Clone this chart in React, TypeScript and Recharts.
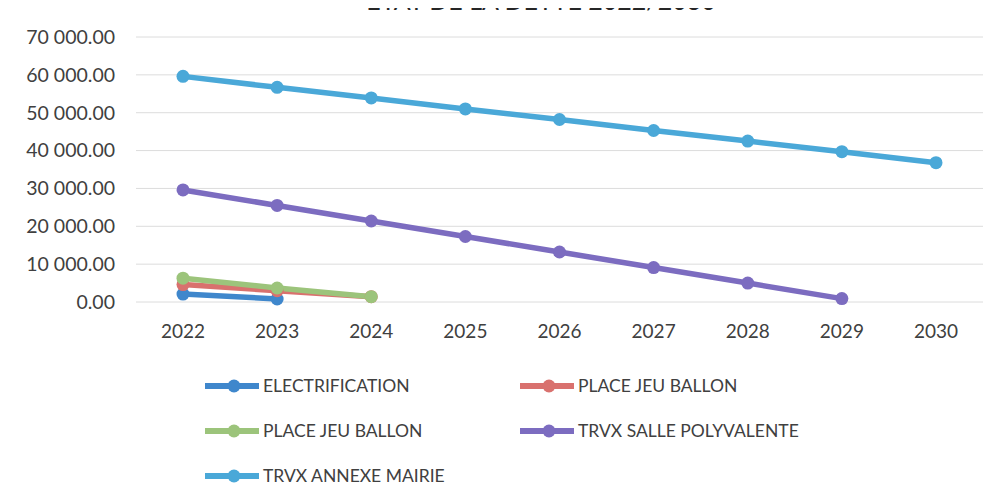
import { LineChart, Line, XAxis, YAxis, CartesianGrid } from "recharts";

const years = ["2022", "2023", "2024", "2025", "2026", "2027", "2028", "2029", "2030"];

const electrification = [2100, 800];
const placeJeuBallonRouge = [4600, 3000, 1400];
const placeJeuBallonVert = [6300, 3700, 1400];
const sallePolyvalente = [29600, 25500, 21400, 17300, 13200, 9100, 5000, 900];
const annexeMairie = [59600, 56700, 53900, 51000, 48200, 45300, 42500, 39700, 36800];

const yTicks = [0, 10000, 20000, 30000, 40000, 50000, 60000, 70000];

const seriesNames = [
  "ELECTRIFICATION",
  "PLACE JEU BALLON",
  "PLACE JEU BALLON",
  "TRVX SALLE POLYVALENTE",
  "TRVX ANNEXE MAIRIE",
];
const seriesValues = [
  electrification,
  placeJeuBallonRouge,
  placeJeuBallonVert,
  sallePolyvalente,
  annexeMairie,
];
const seriesColors = ["#3f87cc", "#d9716e", "#9cc47b", "#7c6cc0", "#4aa8d8"];

const data = years.map((year, i) => {
  const row: Record<string, string | number | null> = { year };
  seriesValues.forEach((values, s) => {
    row[`s${s}`] = values[i] ?? null;
  });
  return row;
});

const formatAmount = (v: number) => {
  const [int, dec] = v.toFixed(2).split(".");
  return `${int.replace(/\B(?=(\d{3})+(?!\d))/g, " ")}.${dec}`;
};

const font = "Lato, 'Open Sans', sans-serif";

// legend slots: [left, top] inside the wrapper
const legendSlots = [
  [197, 367],
  [512, 367],
  [197, 412],
  [512, 412],
  [197, 457],
];

function LegendIcon({ color }: { color: string }) {
  return (
    <svg width={54} height={16} style={{ display: "block" }}>
      <line x1={0} y1={8} x2={54} y2={8} stroke={color} strokeWidth={6} />
      <circle cx={29} cy={8} r={6.5} fill={color} />
    </svg>
  );
}

export default function App() {
  return (
    <div style={{ position: "relative", width: 980, height: 489, fontFamily: font }}>
      {/* title sits mostly above the page edge, like in the scan */}
      <div
        style={{
          position: "absolute",
          top: -21,
          left: 0,
          width: 1066,
          textAlign: "center",
          fontSize: 25,
          lineHeight: "26px",
          color: "#262626",
          whiteSpace: "nowrap",
        }}
      >
        ETAT DE LA DETTE 2022/2030
      </div>

      <LineChart
        width={980}
        height={340}
        data={data}
        margin={{ top: 29, right: 5, left: 10, bottom: 6 }}
      >
        <CartesianGrid vertical={false} stroke="#dcdcdc" />
        <XAxis
          dataKey="year"
          height={40}
          axisLine={false}
          tickLine={false}
          tickSize={0}
          tickMargin={23}
          padding={{ left: 47, right: 47 }}
          tick={{ fill: "#404040", fontSize: 19, fontFamily: font }}
        />
        <YAxis
          width={118}
          domain={[0, 70000]}
          ticks={yTicks}
          axisLine={false}
          tickLine={false}
          tickSize={0}
          tickMargin={21}
          tickFormatter={formatAmount}
          tick={{ fill: "#404040", fontSize: 19.5, fontFamily: font }}
        />
        {seriesNames.map((name, s) => (
          <Line
            key={s}
            dataKey={`s${s}`}
            name={name}
            stroke={seriesColors[s]}
            strokeWidth={5.5}
            dot={{ r: 6.5, fill: seriesColors[s], stroke: seriesColors[s], strokeWidth: 0 }}
            connectNulls={false}
            isAnimationActive={false}
          />
        ))}
      </LineChart>

      {seriesNames.map((name, s) => (
        <div
          key={s}
          style={{
            position: "absolute",
            left: legendSlots[s][0],
            top: legendSlots[s][1],
            display: "flex",
            alignItems: "center",
            gap: 4,
            fontSize: 17.5,
            color: "#404040",
            whiteSpace: "nowrap",
          }}
        >
          <LegendIcon color={seriesColors[s]} />
          <span>{name}</span>
        </div>
      ))}
    </div>
  );
}
